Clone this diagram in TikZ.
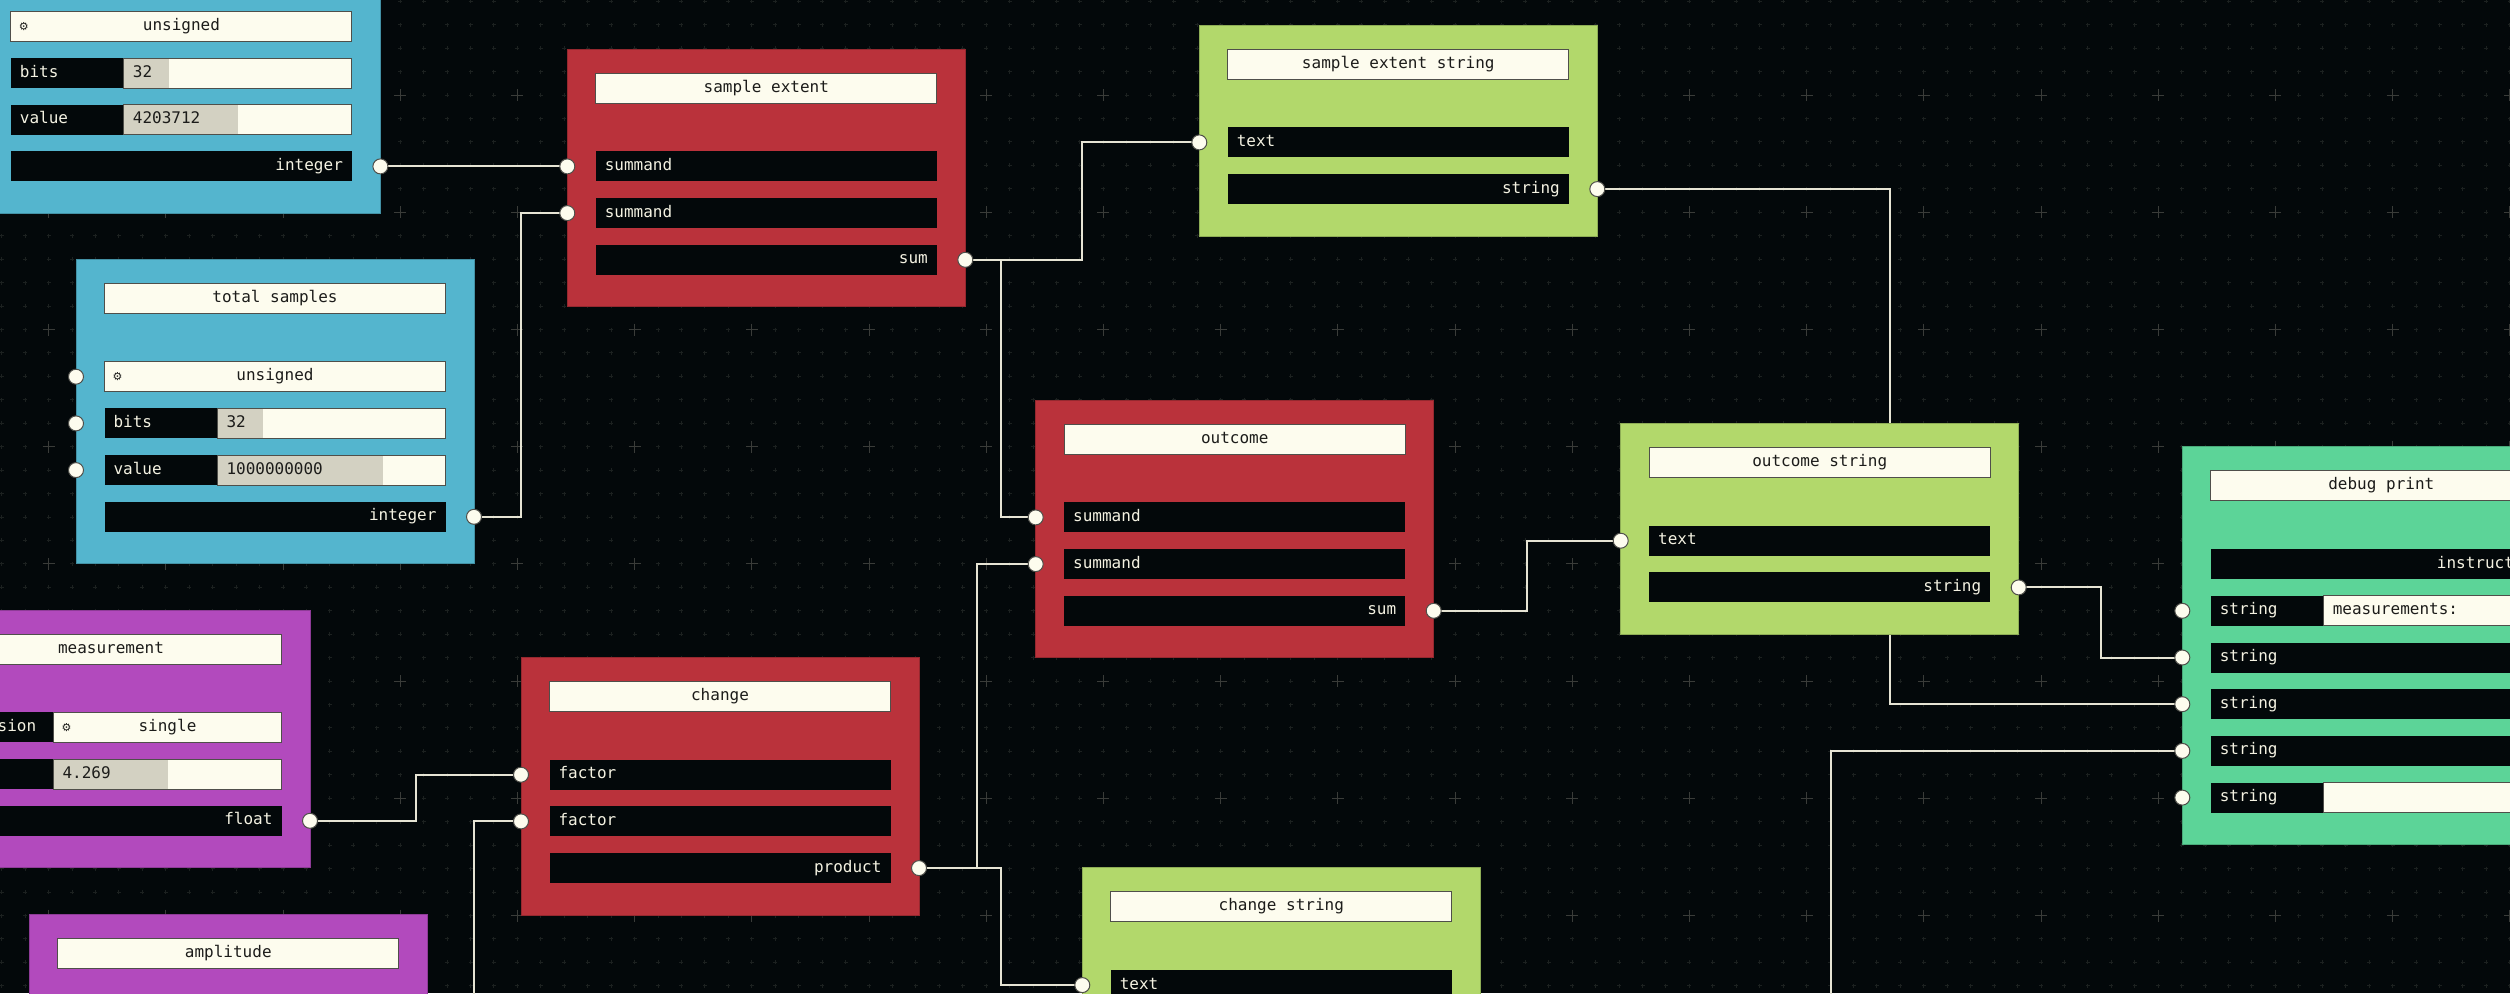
\documentclass[tikz,border=0pt]{standalone}
\usepackage{fontspec}
\setmonofont{DejaVu Sans Mono}
\newfontfamily\gearfont{DejaVu Sans}
\usetikzlibrary{positioning,calc}
\definecolor{canvas}{HTML}{03080A}
\definecolor{gridsmall}{HTML}{1C2120}
\definecolor{gridlarge}{HTML}{3A3C39}
\definecolor{cream}{HTML}{FDFCEE}
\definecolor{ink}{HTML}{1C1C1A}
\definecolor{edge}{HTML}{4F4F4A}
\definecolor{slotbg}{HTML}{03080A}
\definecolor{paper}{HTML}{F4F2E2}
\definecolor{barfill}{HTML}{D3D1C2}
\definecolor{wirec}{HTML}{E6E4D4}
\definecolor{blockblue}{HTML}{54B5CE}
\definecolor{blockred}{HTML}{BA323B}
\definecolor{blocklime}{HTML}{B2D86B}
\definecolor{blockteal}{HTML}{5CD498}
\definecolor{blockpurple}{HTML}{B24ABD}
\pgfdeclarelayer{grid}\pgfdeclarelayer{wires}
\pgfsetlayers{grid,wires,main}
\begin{document}
\begin{tikzpicture}[x=1pt,y=-1pt,every node/.style={font=\ttfamily\fontsize{16}{18}\selectfont, inner sep=0pt, outer sep=0pt},
block/.style={fill=#1, draw=#1!80!black, line width=1pt, minimum width=398pt, anchor=north west},
title/.style={fill=cream, draw=edge, line width=1pt, text=ink, minimum width=341pt, minimum height=30pt, text height=11pt, text depth=3pt},
slot/.style={fill=slotbg, text=paper, minimum height=30pt, inner xsep=9pt, text width=323pt, text height=11pt, text depth=3pt, align=left},
outslot/.style={slot, align=right},
field/.style={fill=cream, draw=edge, line width=1pt, text=ink, minimum height=30pt, inner xsep=9pt, text width=210pt, text height=11pt, text depth=3pt, align=left, anchor=east},
bar/.style={fill=barfill, text=ink, minimum height=29pt, inner xsep=9pt, text width=#1, text height=11pt, text depth=3pt, align=left, anchor=west},
gear/.style={label={[font=\gearfont\fontsize{11}{11}\selectfont, text=ink, anchor=west, xshift=8pt]west:⚙}},
port/.style={circle, fill=cream, draw=edge, line width=1pt, minimum size=15pt},
wire/.style={draw=wirec, line width=2pt, to path={-| ($(\tikztostart)!0.5!(\tikztotarget)$) |- (\tikztotarget)}}]
\useasboundingbox (0,0) rectangle (2510,993);
\begin{pgfonlayer}{grid}
\fill[canvas] (0,0) rectangle (2510,993);
\foreach \j in {-4,...,38} \draw[gridsmall, line width=1pt, dash pattern=on 4pt off 19.44pt] (-70.6,95.1+23.44*\j) -- (2530,95.1+23.44*\j);
\foreach \i in {-2,...,105} \draw[gridsmall, line width=1pt, dash pattern=on 4pt off 19.44pt] (48.6+23.44*\i,-24.1) -- (48.6+23.44*\i,1010);
\foreach \j in {-1,...,7} \draw[gridlarge, line width=1pt, dash pattern=on 12pt off 105.2pt] (-74.6,95.1+117.2*\j) -- (2530,95.1+117.2*\j);
\foreach \i in {-1,...,21} \draw[gridlarge, line width=1pt, dash pattern=on 12pt off 105.2pt] (48.6+117.2*\i,-28.1) -- (48.6+117.2*\i,1010);
\end{pgfonlayer}

\node[block=blockblue, minimum height=304.4pt] (uns) at (-17.6,-91.1) {};
\node[title, below=24pt of uns.north] (uns-t) {};
\node[field, text width=323pt, align=center, gear, below=48.4pt of uns-t] (uns-r0) {unsigned};
\node[slot, below=16.7pt of uns-r0] (uns-r1) {bits};
\node[field] (uns-f1) at (uns-r1.east) {};
\node[bar=27pt] (uns-b1) at (uns-f1.west) {32};
\node[slot, below=16.7pt of uns-r1] (uns-r2) {value};
\node[field] (uns-f2) at (uns-r2.east) {};
\node[bar=96pt] (uns-b2) at (uns-f2.west) {4203712};
\node[outslot, below=16.7pt of uns-r2] (uns-r3) {integer};
\node[port] (uns-o) at (uns.east |- uns-r3) {};

\node[block=blockblue, minimum height=304.4pt] (ts) at (76,259.3) {};
\node[title, below=24pt of ts.north] (ts-t) {total samples};
\node[field, text width=323pt, align=center, gear, below=48.4pt of ts-t] (ts-r0) {unsigned};
\node[slot, below=16.7pt of ts-r0] (ts-r1) {bits};
\node[field] (ts-f1) at (ts-r1.east) {};
\node[bar=27pt] (ts-b1) at (ts-f1.west) {32};
\node[slot, below=16.7pt of ts-r1] (ts-r2) {value};
\node[field] (ts-f2) at (ts-r2.east) {};
\node[bar=147.7pt] (ts-b2) at (ts-f2.west) {1000000000};
\node[outslot, below=16.7pt of ts-r2] (ts-r3) {integer};
\node[port] (ts-i0) at (ts.west |- ts-r0) {};
\node[port] (ts-i1) at (ts.west |- ts-r1) {};
\node[port] (ts-i2) at (ts.west |- ts-r2) {};
\node[port] (ts-o) at (ts.east |- ts-r3) {};

\node[block=blockred, minimum height=257.7pt] (se) at (567.3,49) {};
\node[title, below=24pt of se.north] (se-t) {sample extent};
\node[slot, below=48.4pt of se-t] (se-r0) {summand};
\node[slot, below=16.7pt of se-r0] (se-r1) {summand};
\node[outslot, below=16.7pt of se-r1] (se-r2) {sum};
\node[port] (se-i0) at (se.west |- se-r0) {};
\node[port] (se-i1) at (se.west |- se-r1) {};
\node[port] (se-o) at (se.east |- se-r2) {};

\node[block=blocklime, minimum height=211pt] (ses) at (1199.3,25) {};
\node[title, below=24pt of ses.north] (ses-t) {sample extent string};
\node[slot, below=48.4pt of ses-t] (ses-r0) {text};
\node[outslot, below=16.7pt of ses-r0] (ses-r1) {string};
\node[port] (ses-i0) at (ses.west |- ses-r0) {};
\node[port] (ses-o) at (ses.east |- ses-r1) {};

\node[block=blockred, minimum height=257.7pt] (oc) at (1035.7,400) {};
\node[title, below=24pt of oc.north] (oc-t) {outcome};
\node[slot, below=48.4pt of oc-t] (oc-r0) {summand};
\node[slot, below=16.7pt of oc-r0] (oc-r1) {summand};
\node[outslot, below=16.7pt of oc-r1] (oc-r2) {sum};
\node[port] (oc-i0) at (oc.west |- oc-r0) {};
\node[port] (oc-i1) at (oc.west |- oc-r1) {};
\node[port] (oc-o) at (oc.east |- oc-r2) {};

\node[block=blocklime, minimum height=211pt] (ocs) at (1620.7,423.3) {};
\node[title, below=24pt of ocs.north] (ocs-t) {outcome string};
\node[slot, below=48.4pt of ocs-t] (ocs-r0) {text};
\node[outslot, below=16.7pt of ocs-r0] (ocs-r1) {string};
\node[port] (ocs-i0) at (ocs.west |- ocs-r0) {};
\node[port] (ocs-o) at (ocs.east |- ocs-r1) {};

\node[block=blockteal, minimum height=397.8pt] (dbg) at (2182.3,446.7) {};
\node[title, below=24pt of dbg.north] (dbg-t) {debug print};
\node[outslot, below=48.4pt of dbg-t] (dbg-r0) {instruction};
\node[slot, below=16.7pt of dbg-r0] (dbg-r1) {string};
\node[field] (dbg-f1) at (dbg-r1.east) {measurements:};
\node[slot, below=16.7pt of dbg-r1] (dbg-r2) {string};
\node[slot, below=16.7pt of dbg-r2] (dbg-r3) {string};
\node[slot, below=16.7pt of dbg-r3] (dbg-r4) {string};
\node[slot, below=16.7pt of dbg-r4] (dbg-r5) {string};
\node[field] (dbg-f5) at (dbg-r5.east) {};
\node[port] (dbg-i1) at (dbg.west |- dbg-r1) {};
\node[port] (dbg-i2) at (dbg.west |- dbg-r2) {};
\node[port] (dbg-i3) at (dbg.west |- dbg-r3) {};
\node[port] (dbg-i4) at (dbg.west |- dbg-r4) {};
\node[port] (dbg-i5) at (dbg.west |- dbg-r5) {};

\node[block=blockpurple, minimum height=257.7pt] (meas) at (-88,610) {};
\node[title, below=24pt of meas.north] (meas-t) {measurement};
\node[slot, below=48.4pt of meas-t] (meas-r0) {precision};
\node[field, align=center, gear] (meas-f0) at (meas-r0.east) {single};
\node[slot, below=16.7pt of meas-r0] (meas-r1) {value};
\node[field] (meas-f1) at (meas-r1.east) {};
\node[bar=96.7pt] (meas-b1) at (meas-f1.west) {4.269};
\node[outslot, below=16.7pt of meas-r1] (meas-r2) {float};
\node[port] (meas-o) at (meas.east |- meas-r2) {};

\node[block=blockpurple, minimum height=257.7pt] (amp) at (29.3,914.3) {};
\node[title, below=24pt of amp.north] (amp-t) {amplitude};
\node[port] (amp-o) at ([yshift=-210.5pt]amp.north east) {};

\node[block=blockred, minimum height=257.7pt] (chg) at (521,657.3) {};
\node[title, below=24pt of chg.north] (chg-t) {change};
\node[slot, below=48.4pt of chg-t] (chg-r0) {factor};
\node[slot, below=16.7pt of chg-r0] (chg-r1) {factor};
\node[outslot, below=16.7pt of chg-r1] (chg-r2) {product};
\node[port] (chg-i0) at (chg.west |- chg-r0) {};
\node[port] (chg-i1) at (chg.west |- chg-r1) {};
\node[port] (chg-o) at (chg.east |- chg-r2) {};

\node[block=blocklime, minimum height=211pt] (chs) at (1082.3,867.7) {};
\node[title, below=24pt of chs.north] (chs-t) {change string};
\node[slot, below=48.4pt of chs-t] (chs-r0) {text};
\node[port] (chs-i0) at (chs.west |- chs-r0) {};
\node[port] (chs-o) at ([yshift=-164.1pt]chs.north east) {};

\begin{pgfonlayer}{wires}
\draw[wire] (uns-o.center) to (se-i0.center);
\draw[wire] (ts-o.center) to (se-i1.center);
\draw[wire] (se-o.center) to (ses-i0.center);
\draw[wire] (se-o.center) to (oc-i0.center);
\draw[wire] (chg-o.center) to (oc-i1.center);
\draw[wire] (chg-o.center) to (chs-i0.center);
\draw[wire] (oc-o.center) to (ocs-i0.center);
\draw[wire] (ses-o.center) to (dbg-i3.center);
\draw[wire] (ocs-o.center) to (dbg-i2.center);
\draw[wire] (chs-o.center) to (dbg-i4.center);
\draw[wire] (meas-o.center) to (chg-i0.center);
\draw[wire] (amp-o.center) to (chg-i1.center);
\end{pgfonlayer}
\end{tikzpicture}
\end{document}
